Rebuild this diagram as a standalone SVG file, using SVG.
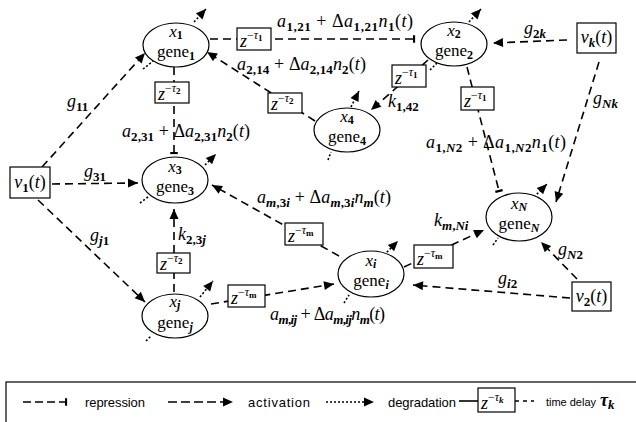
<svg xmlns="http://www.w3.org/2000/svg" width="636" height="422" viewBox="0 0 636 422" font-family="Liberation Serif, DejaVu Serif, serif">
<style>
text{font-size:18px;fill:#000}
.i{font-style:italic}
.s{font-size:13px;font-weight:bold}
.ns{font-size:12px;font-weight:bold}
.sm{font-size:12px}
.ss{font-size:9px;font-weight:bold}
.node ellipse{fill:#fff;stroke:#000;stroke-width:1.2}
.node text{font-size:17px}
.box{fill:#fff;stroke:#000;stroke-width:1.2}
.dash{fill:none;stroke:#000;stroke-width:1.6;stroke-dasharray:8,5}
.dot{fill:none;stroke:#000;stroke-width:1.6;stroke-dasharray:2,2}
.act{marker-end:url(#arr)}
.rep{marker-end:url(#bar)}
text.leg{font-size:13px}
</style>
<defs>
<marker id="arr" viewBox="0 0 10 10" refX="10" refY="5" markerWidth="11" markerHeight="10" markerUnits="userSpaceOnUse" orient="auto"><path d="M0,0.5 L10,5 L0,9.5 z" fill="#000"/></marker>
<marker id="bar" viewBox="0 0 4 10" refX="2" refY="5" markerWidth="3" markerHeight="9" markerUnits="userSpaceOnUse" orient="auto"><path d="M2,0 L2,10" stroke="#000" stroke-width="3"/></marker>
</defs>
<rect width="636" height="422" fill="#fff"/>

<g id="connectors">
<line class="dash act" x1="42" y1="167" x2="145" y2="53"/>
<line class="dash act" x1="52" y1="184" x2="138" y2="183"/>
<line class="dash act" x1="38" y1="200" x2="145" y2="302"/>
<line class="dash act" x1="567" y1="40" x2="493" y2="43"/>
<line class="dash act" x1="599" y1="62" x2="556" y2="202"/>
<line class="dash act" x1="570" y1="298" x2="413" y2="285"/>
<line class="dash act" x1="577" y1="279" x2="541" y2="242"/>
<line class="dash rep" x1="210" y1="39" x2="414" y2="39"/>
<line class="dash rep" x1="174" y1="67" x2="174" y2="153"/>
<line class="dash rep" x1="467" y1="67" x2="499" y2="191"/>
<line class="dash act" x1="315" y1="121" x2="207" y2="52"/>
<line class="dash act" x1="428" y1="60" x2="371" y2="110"/>
<line class="dash act" x1="339" y1="256" x2="212" y2="185"/>
<line class="dash act" x1="211" y1="304" x2="334" y2="284"/>
<line class="dash act" x1="404" y1="267" x2="484" y2="230"/>
<line class="dash act" x1="174" y1="292" x2="174" y2="209"/>
<line class="dot act" x1="194" y1="22" x2="206" y2="9"/>
<line class="dot act" x1="469" y1="22" x2="481" y2="9"/>
<line class="dot act" x1="205" y1="165" x2="216" y2="154"/>
<line class="dot act" x1="351" y1="107" x2="359" y2="91"/>
<line class="dot act" x1="200" y1="297" x2="213" y2="281"/>
<line class="dot act" x1="384" y1="255" x2="398" y2="241"/>
<line class="dot act" x1="534" y1="197" x2="547" y2="184"/>
<line class="dot" x1="143" y1="69" x2="153" y2="61"/>
<line class="dot" x1="430" y1="70" x2="437" y2="63"/>
<line class="dot" x1="140" y1="203" x2="148" y2="197"/>
<line class="dot" x1="328" y1="160" x2="331" y2="152"/>
<line class="dot" x1="146" y1="341" x2="151" y2="336"/>
<line class="dot" x1="344" y1="303" x2="349" y2="295"/>
<line class="dot" x1="493" y1="245" x2="498" y2="238"/>
</g>

<g id="delays">
<g id="d1"><rect class="box" x="237" y="28" width="34" height="22"/><text x="240" y="47"><tspan class="i">z</tspan><tspan class="sm" dy="-8">−</tspan><tspan class="sm i">τ</tspan><tspan class="ss" dy="2">1</tspan></text></g>
<g id="d2"><rect class="box" x="155" y="82" width="34" height="21"/><text x="158" y="100"><tspan class="i">z</tspan><tspan class="sm" dy="-8">−</tspan><tspan class="sm i">τ</tspan><tspan class="ss" dy="2">2</tspan></text></g>
<g id="d3"><rect class="box" x="268" y="93" width="34" height="20"/><text x="271" y="110"><tspan class="i">z</tspan><tspan class="sm" dy="-8">−</tspan><tspan class="sm i">τ</tspan><tspan class="ss" dy="2">2</tspan></text></g>
<g id="d4"><rect class="box" x="392" y="65" width="34" height="22"/><text x="395" y="84"><tspan class="i">z</tspan><tspan class="sm" dy="-8">−</tspan><tspan class="sm i">τ</tspan><tspan class="ss" dy="2">1</tspan></text></g>
<g id="d5"><rect class="box" x="461" y="87" width="33" height="23"/><text x="464" y="107"><tspan class="i">z</tspan><tspan class="sm" dy="-8">−</tspan><tspan class="sm i">τ</tspan><tspan class="ss" dy="2">1</tspan></text></g>
<g id="d6"><rect class="box" x="157" y="253" width="33" height="20"/><text x="160" y="270"><tspan class="i">z</tspan><tspan class="sm" dy="-8">−</tspan><tspan class="sm i">τ</tspan><tspan class="ss" dy="2">2</tspan></text></g>
<g id="d7"><rect class="box" x="285" y="223" width="38" height="22"/><text x="288" y="242"><tspan class="i">z</tspan><tspan class="sm" dy="-8">−</tspan><tspan class="sm i">τ</tspan><tspan class="ss" dy="2">m</tspan></text></g>
<g id="d8"><rect class="box" x="228" y="285" width="37" height="22"/><text x="231" y="304"><tspan class="i">z</tspan><tspan class="sm" dy="-8">−</tspan><tspan class="sm i">τ</tspan><tspan class="ss" dy="2">m</tspan></text></g>
<g id="d9"><rect class="box" x="414" y="245" width="39" height="23"/><text x="417" y="265"><tspan class="i">z</tspan><tspan class="sm" dy="-8">−</tspan><tspan class="sm i">τ</tspan><tspan class="ss" dy="2">m</tspan></text></g>
</g>

<g id="labels">
<text x="67" y="107"><tspan class="i">g</tspan><tspan class="s" dy="4">11</tspan></text>
<text x="84" y="177"><tspan class="i">g</tspan><tspan class="s" dy="4">31</tspan></text>
<text x="90" y="241"><tspan class="i">g</tspan><tspan class="s i" dy="4">j</tspan><tspan class="s">1</tspan></text>
<text x="524" y="34"><tspan class="i">g</tspan><tspan class="s" dy="4">2<tspan class="i">k</tspan></tspan></text>
<text x="593" y="104"><tspan class="i">g</tspan><tspan class="s i" dy="4">Nk</tspan></text>
<text x="498" y="284"><tspan class="i">g</tspan><tspan class="s i" dy="4">i</tspan><tspan class="s">2</tspan></text>
<text x="558" y="255"><tspan class="i">g</tspan><tspan class="s i" dy="4">N</tspan><tspan class="s">2</tspan></text>
<text x="388" y="107"><tspan class="i">k</tspan><tspan class="s" dy="4">1,42</tspan></text>
<text x="178" y="240"><tspan class="i">k</tspan><tspan class="s" dy="4">2,3<tspan class="i">j</tspan></tspan></text>
<text x="434" y="226"><tspan class="i">k</tspan><tspan class="s i" dy="4">m</tspan><tspan class="s">,</tspan><tspan class="s i">Ni</tspan></text>

<text x="277" y="27" textLength="136" lengthAdjust="spacing"><tspan class="i">a</tspan><tspan class="s" dy="4">1,21</tspan><tspan dy="-4"> + Δ</tspan><tspan class="i">a</tspan><tspan class="s" dy="4">1,21</tspan><tspan class="i" dy="-4">n</tspan><tspan class="s" dy="4">1</tspan><tspan dy="-4">(</tspan><tspan class="i">t</tspan>)</text>
<text x="237" y="70" textLength="129" lengthAdjust="spacing"><tspan class="i">a</tspan><tspan class="s" dy="4">2,14</tspan><tspan dy="-4"> + Δ</tspan><tspan class="i">a</tspan><tspan class="s" dy="4">2,14</tspan><tspan class="i" dy="-4">n</tspan><tspan class="s" dy="4">2</tspan><tspan dy="-4">(</tspan><tspan class="i">t</tspan>)</text>
<text x="122" y="137" textLength="128" lengthAdjust="spacing"><tspan class="i">a</tspan><tspan class="s" dy="4">2,31</tspan><tspan dy="-4"> + Δ</tspan><tspan class="i">a</tspan><tspan class="s" dy="4">2,31</tspan><tspan class="i" dy="-4">n</tspan><tspan class="s" dy="4">2</tspan><tspan dy="-4">(</tspan><tspan class="i">t</tspan>)</text>
<text x="426" y="148" textLength="140" lengthAdjust="spacing"><tspan class="i">a</tspan><tspan class="s" dy="4">1,<tspan class="i">N</tspan>2</tspan><tspan dy="-4"> + Δ</tspan><tspan class="i">a</tspan><tspan class="s" dy="4">1,<tspan class="i">N</tspan>2</tspan><tspan class="i" dy="-4">n</tspan><tspan class="s" dy="4">1</tspan><tspan dy="-4">(</tspan><tspan class="i">t</tspan>)</text>
<text x="257" y="203" textLength="134" lengthAdjust="spacing"><tspan class="i">a</tspan><tspan class="s i" dy="4">m</tspan><tspan class="s">,3</tspan><tspan class="s i">i</tspan><tspan dy="-4"> + Δ</tspan><tspan class="i">a</tspan><tspan class="s i" dy="4">m</tspan><tspan class="s">,3</tspan><tspan class="s i">i</tspan><tspan class="i" dy="-4">n</tspan><tspan class="s i" dy="4">m</tspan><tspan dy="-4">(</tspan><tspan class="i">t</tspan>)</text>
<text x="270" y="320" textLength="115" lengthAdjust="spacing"><tspan class="i">a</tspan><tspan class="s i" dy="4">m</tspan><tspan class="s">,</tspan><tspan class="s i">ij</tspan><tspan dy="-4"> + Δ</tspan><tspan class="i">a</tspan><tspan class="s i" dy="4">m</tspan><tspan class="s">,</tspan><tspan class="s i">ij</tspan><tspan class="i" dy="-4">n</tspan><tspan class="s i" dy="4">m</tspan><tspan dy="-4">(</tspan><tspan class="i">t</tspan>)</text>
</g>

<g id="v1"><rect class="box" x="10" y="167" width="40" height="31"/><text x="30" y="188" text-anchor="middle"><tspan class="i">v</tspan><tspan class="s" dy="4">1</tspan><tspan dy="-4">(</tspan><tspan class="i">t</tspan>)</text></g>
<g id="vk"><rect class="box" x="577" y="23" width="39" height="30"/><text x="596.5" y="43" text-anchor="middle"><tspan class="i">v</tspan><tspan class="s i" dy="4">k</tspan><tspan dy="-4">(</tspan><tspan class="i">t</tspan>)</text></g>
<g id="v2"><rect class="box" x="572" y="282" width="39" height="29"/><text x="591.5" y="302" text-anchor="middle"><tspan class="i">v</tspan><tspan class="s" dy="4">2</tspan><tspan dy="-4">(</tspan><tspan class="i">t</tspan>)</text></g>

<g id="gene1" class="node"><ellipse cx="176" cy="45" rx="33" ry="22"/><text x="176" y="37" text-anchor="middle"><tspan class="i">x</tspan><tspan class="ns" dy="2">1</tspan></text><text x="176" y="57" text-anchor="middle">gene<tspan class="ns" dy="3">1</tspan></text></g>
<g id="gene2" class="node"><ellipse cx="454" cy="44" rx="33" ry="22"/><text x="454" y="36" text-anchor="middle"><tspan class="i">x</tspan><tspan class="ns" dy="2">2</tspan></text><text x="454" y="56" text-anchor="middle">gene<tspan class="ns" dy="3">2</tspan></text></g>
<g id="gene4" class="node"><ellipse cx="347" cy="130" rx="33" ry="22"/><text x="347" y="122" text-anchor="middle"><tspan class="i">x</tspan><tspan class="ns" dy="2">4</tspan></text><text x="347" y="142" text-anchor="middle">gene<tspan class="ns" dy="3">4</tspan></text></g>
<g id="gene3" class="node"><ellipse cx="175" cy="180" rx="33" ry="23"/><text x="175" y="172" text-anchor="middle"><tspan class="i">x</tspan><tspan class="ns" dy="2">3</tspan></text><text x="175" y="192" text-anchor="middle">gene<tspan class="ns" dy="3">3</tspan></text></g>
<g id="genej" class="node"><ellipse cx="175" cy="316" rx="33" ry="22"/><text x="175" y="307" text-anchor="middle"><tspan class="i">x</tspan><tspan class="ns i" dy="2">j</tspan></text><text x="175" y="328" text-anchor="middle">gene<tspan class="ns i" dy="3">j</tspan></text></g>
<g id="genei" class="node"><ellipse cx="371" cy="274" rx="33" ry="23"/><text x="371" y="266" text-anchor="middle"><tspan class="i">x</tspan><tspan class="ns i" dy="2">i</tspan></text><text x="371" y="286" text-anchor="middle">gene<tspan class="ns i" dy="3">i</tspan></text></g>
<g id="geneN" class="node"><ellipse cx="519" cy="217" rx="33" ry="24"/><text x="519" y="209" text-anchor="middle"><tspan class="i">x</tspan><tspan class="ns i" dy="2">N</tspan></text><text x="519" y="229" text-anchor="middle">gene<tspan class="ns i" dy="3">N</tspan></text></g>

<g id="legend">
<rect x="6" y="382" width="640" height="50" fill="none" stroke="#000" stroke-width="1.2"/>
<line x1="23" y1="402" x2="66" y2="402" stroke="#000" stroke-width="1.6" stroke-dasharray="8,4" marker-end="url(#bar)"/>
<g font-family="Liberation Sans, Arial, sans-serif">
<text class="leg" x="85" y="407" textLength="60">repression</text>
<text class="leg" x="248" y="407" textLength="62">activation</text>
<text class="leg" x="388" y="407" textLength="68">degradation</text>
<text class="leg" x="546" y="406" style="font-size:11px" textLength="50">time delay</text>
</g>
<line x1="168" y1="402" x2="233" y2="402" stroke="#000" stroke-width="1.6" stroke-dasharray="9,4" marker-end="url(#arr)"/>
<line x1="326" y1="402" x2="374" y2="402" stroke="#000" stroke-width="1.6" stroke-dasharray="2,2" marker-end="url(#arr)"/>
<line x1="459" y1="401" x2="478" y2="401" stroke="#000" stroke-width="1.6"/>
<rect class="box" x="478" y="388" width="37" height="24"/>
<text x="481" y="409"><tspan class="i">z</tspan><tspan class="sm" dy="-8">−</tspan><tspan class="sm i">τ</tspan><tspan class="ss i" dy="2">k</tspan></text>
<line x1="515" y1="401" x2="534" y2="401" stroke="#000" stroke-width="1.6" stroke-dasharray="4,4"/>
<text x="600" y="406" style="font-weight:bold"><tspan class="i">τ</tspan><tspan class="s i" dy="3">k</tspan></text>
</g>
</svg>
